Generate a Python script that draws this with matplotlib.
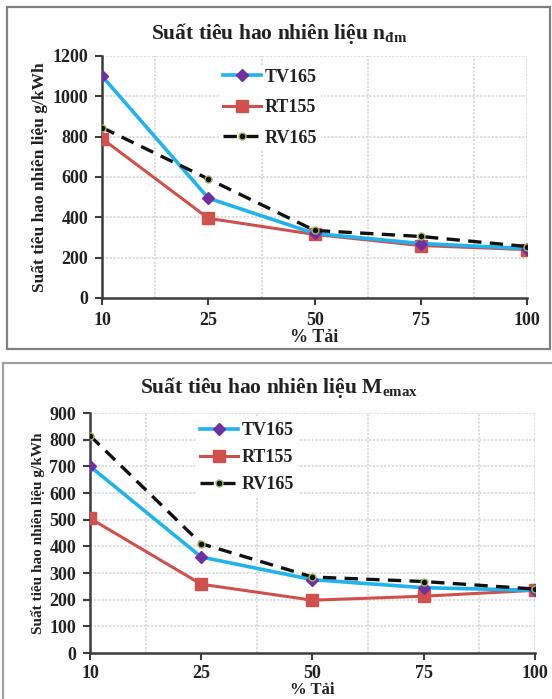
import numpy as np
import matplotlib
matplotlib.use('Agg')
import matplotlib.pyplot as plt
from matplotlib.patches import Rectangle

plt.rcParams['font.family'] = ['Liberation Serif', 'DejaVu Serif']
plt.rcParams['font.weight'] = 'bold'
plt.rcParams['mathtext.fontset'] = 'custom'
plt.rcParams['mathtext.rm'] = 'Liberation Serif'
plt.rcParams['mathtext.bf'] = 'Liberation Serif:bold'

# ---------- data ----------
loads = ['10', '25', '50', '75', '100']

# n_dm (rated speed)
tv165_ndm = [1100, 495, 320, 270, 245]
rt155_ndm = [790, 395, 315, 260, 240]
rv165_ndm = [845, 590, 335, 305, 255]

# M_emax (max torque)
tv165_mem = [700, 360, 275, 245, 235]
rt155_mem = [505, 258, 198, 213, 235]
rv165_mem = [815, 410, 285, 268, 240]

COL_TV = '#1fb4ec'
COL_TV_MK = '#7030a0'
COL_RT = '#d0504d'
COL_RV = '#111111'

AX_COL = '#3c3c3c'
GRID_COL = '#d4d4d4'

fig = plt.figure(figsize=(5.52, 6.99), dpi=100)

# panel frames
fig.add_artist(Rectangle((7/552, 1 - 349/699), (550 - 7)/552, (349 - 7)/699,
                         transform=fig.transFigure, fill=False,
                         edgecolor='#808080', lw=1.6))
fig.add_artist(Rectangle((3/552, -0.1), 1.2, 0.1 + 1 - 363/699,
                         transform=fig.transFigure, fill=False,
                         edgecolor='#a0a0a0', lw=1.6))


def draw_panel(ax, tv, rt, rv, ymax, ystep, ylab_fs, leg_anchor,
               leg_spacing, xtick_pad, xlab_fs, xlab_pad):
    x = np.arange(len(loads))
    ax.plot(x, tv, color=COL_TV, lw=2.6, marker='D', ms=6,
            mfc=COL_TV_MK, mec=COL_TV_MK, label='TV165', zorder=4)
    ax.plot(x, rt, color=COL_RT, lw=2.2, marker='s', ms=9,
            mfc=COL_RT, mec=COL_RT, label='RT155', zorder=3)
    ax.plot(x, rv, color=COL_RV, lw=2.4, ls=(0, (4, 2.5)), marker='o', ms=5,
            mfc='#111111', mec='#9bbb59', mew=1, label='RV165', zorder=5)

    ax.set_xlim(0, len(loads) - 1)
    ax.set_ylim(0, ymax)
    ax.set_xticks(x)
    ax.set_xticklabels(loads)
    ax.set_yticks(np.arange(0, ymax + 1, ystep))

    # grid: horizontal at major ticks, vertical between categories + at end
    for yv in np.arange(ystep, ymax + 1, ystep):
        ax.axhline(yv, color=GRID_COL, lw=1.1, ls=(0, (1.5, 1)), zorder=1)
    for xv in [0.5, 1.5, 2.5, 3.5, 4.0]:
        ax.axvline(xv, color=GRID_COL, lw=1.1, ls=(0, (1.5, 1)), zorder=1)

    for s in ['top', 'right']:
        ax.spines[s].set_visible(False)
    for s in ['left', 'bottom']:
        ax.spines[s].set_color(AX_COL)
        ax.spines[s].set_linewidth(1.8)
    ax.tick_params(axis='both', direction='out', length=5, width=1.5,
                   color=AX_COL, labelsize=13, labelcolor='#222222')
    ax.tick_params(axis='y', pad=5)
    ax.tick_params(axis='x', pad=xtick_pad)
    for lab in ax.get_xticklabels() + ax.get_yticklabels():
        lab.set_fontweight('bold')

    ax.set_ylabel('Suất tiêu hao nhiên liệu g/kWh', fontsize=ylab_fs,
                  fontweight='bold', color='#222222', labelpad=3)
    ax.set_xlabel('% Tải', fontsize=xlab_fs, fontweight='bold',
                  color='#222222', labelpad=xlab_pad)

    leg = ax.legend(loc='upper left', bbox_to_anchor=leg_anchor,
                    fontsize=13, frameon=True, fancybox=False,
                    handlelength=2.1, handletextpad=0.2,
                    labelspacing=leg_spacing, borderpad=0.2)
    leg.get_frame().set_facecolor('white')
    leg.get_frame().set_edgecolor('none')
    leg.get_frame().set_alpha(1)
    for t in leg.get_texts():
        t.set_fontweight('bold')
        t.set_color('#222222')


ax1 = fig.add_axes([0.185, 0.5737, 0.770, 0.3462])
draw_panel(ax1, tv165_ndm, rt155_ndm, rv165_ndm, 1200, 200,
           12.5, (0.255, 1.0), 0.75, 5, 13, 0)
fig.text(0.505, 1 - 34/699, 'Suất tiêu hao nhiên liệu n$_{\\mathbf{đm}}$',
         ha='center', va='center', fontsize=15.5, fontweight='bold',
         color='#222222')

ax2 = fig.add_axes([0.163, 1 - 653/699, 0.806, (653 - 413)/699])
draw_panel(ax2, tv165_mem, rt155_mem, rv165_mem, 900, 100,
           11, (0.22, 1.015), 0.55, 4, 12, 0)
fig.text(0.505, 1 - 387/699, 'Suất tiêu hao nhiên liệu M$_{\\mathbf{emax}}$',
         ha='center', va='center', fontsize=15.5, fontweight='bold',
         color='#222222')

fig.savefig('out.png', dpi=100)
